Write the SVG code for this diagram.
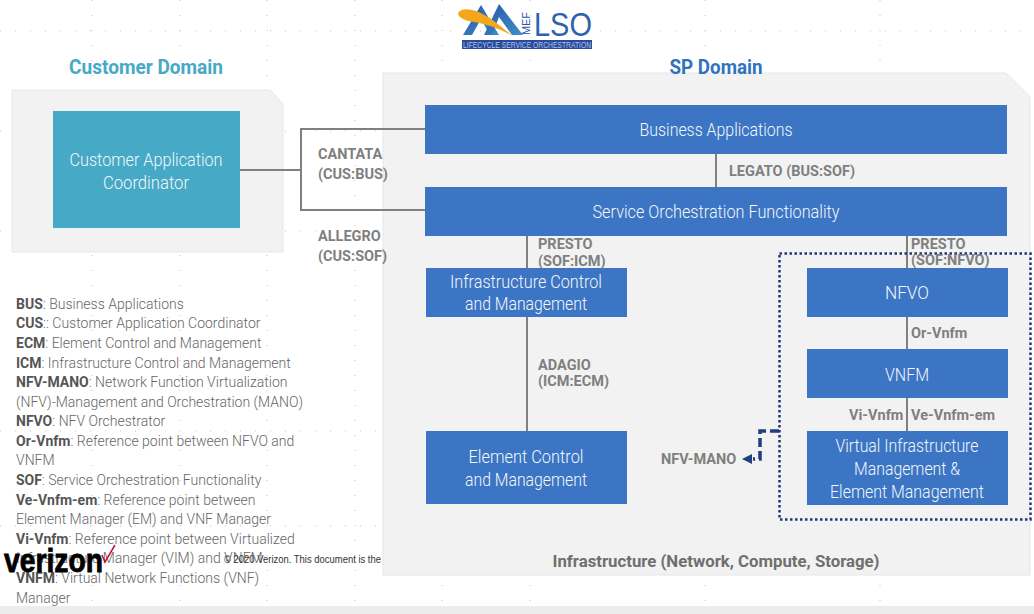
<svg xmlns="http://www.w3.org/2000/svg" width="1034" height="614" viewBox="0 0 1034 614">
<defs>
<linearGradient id="mnt" x1="0" y1="0" x2="1" y2="1"><stop offset="0" stop-color="#2a55a5"/><stop offset="1" stop-color="#3f8fce"/></linearGradient>
</defs>
<style>
text{font-family:"Roboto","Liberation Sans",sans-serif}
.box{fill:#3b75c3}
.w{fill:#f4f7fb;font-size:19px;text-anchor:middle;font-weight:300}
.l{fill:#7f7f7f;font-size:14.500px;font-weight:700}
.t{fill:#666;font-size:14px;font-weight:300}
.t tspan{font-weight:700;fill:#555}
.c{fill:none;stroke:#808080;stroke-width:2}
.panel{fill:#f2f2f2;stroke:#e6e6e6;stroke-width:1}
.h{font-size:20px;font-weight:700;text-anchor:middle}
.grid{stroke:#c4c4c4;stroke-width:1;stroke-dasharray:1 14;fill:none}
</style>
<rect width="1034" height="614" fill="#fff"/>
<rect y="606" width="1034" height="8" fill="#ececec"/>
<g id="grid" class="grid">
<path d="M0 31H1034M0 131H1034M0 231H1034M0 431H1034M0 526H1034"/>
<path d="M92 0V606M180 0V606M267 0V606M355 0V606M442 0V606M530 0V606M705 0V606M880 0V606"/>
</g>
<g id="sp-domain">
<path class="panel" d="M383 73H1006L1030 97V575H383Z"/>
<text class="h" x="716" y="74" fill="#2f73c0" textLength="93" lengthAdjust="spacingAndGlyphs">SP Domain</text>
<text x="716" y="567" text-anchor="middle" style="font-size:17px;font-weight:700" fill="#6f6f6f" textLength="327" lengthAdjust="spacingAndGlyphs">Infrastructure (Network, Compute, Storage)</text>
</g>
<g id="customer-domain">
<path class="panel" d="M12 90H270L283 104V252H12Z"/>
<text class="h" x="146" y="74" fill="#46a9c5" textLength="154" lengthAdjust="spacingAndGlyphs">Customer Domain</text>
</g>
<g id="connectors">
<path class="c" d="M240 170H301M425 129H301V210H425"/>
<path class="c" d="M716 153V187"/>
<path class="c" d="M527 235V268M527 317V432"/>
<path class="c" d="M907 235V268M907 317V350M907 398V431"/>
<path d="M779 431H760V459H753" fill="none" stroke="#1f3f7f" stroke-width="3.500" stroke-dasharray="9 4"/>
<path d="M742 459L752 454V464Z" fill="#1f3f7f"/>
</g>
<g id="mano-boundary"><rect x="779.500" y="253.500" width="251" height="266" fill="none" stroke="#1f3575" stroke-width="2.500" stroke-dasharray="2.500 2.500"/></g>
<g id="customer-app"><rect x="53" y="111" width="187" height="117" fill="#46a9c5"/><text class="w" x="146" y="166" textLength="153" lengthAdjust="spacingAndGlyphs">Customer Application</text><text class="w" x="146" y="189" textLength="86" lengthAdjust="spacingAndGlyphs">Coordinator</text></g>
<g id="business-apps"><rect class="box" x="425" y="105" width="582" height="49"/><text class="w" x="716" y="136" textLength="153" lengthAdjust="spacingAndGlyphs">Business Applications</text></g>
<g id="sof"><rect class="box" x="425" y="187" width="582" height="49"/><text class="w" x="716" y="218" textLength="247" lengthAdjust="spacingAndGlyphs">Service Orchestration Functionality</text></g>
<g id="icm"><rect class="box" x="426" y="268" width="201" height="49"/><text class="w" x="526" y="288" textLength="152" lengthAdjust="spacingAndGlyphs">Infrastructure Control</text><text class="w" x="526" y="310" textLength="122" lengthAdjust="spacingAndGlyphs">and Management</text></g>
<g id="ecm"><rect class="box" x="426" y="431" width="201" height="73"/><text class="w" x="526" y="463" textLength="115" lengthAdjust="spacingAndGlyphs">Element Control</text><text class="w" x="526" y="486" textLength="122" lengthAdjust="spacingAndGlyphs">and Management</text></g>
<g id="nfvo"><rect class="box" x="807" y="268" width="201" height="49"/><text class="w" x="907" y="299" textLength="44" lengthAdjust="spacingAndGlyphs">NFVO</text></g>
<g id="vnfm"><rect class="box" x="807" y="349" width="201" height="49"/><text class="w" x="907" y="381" textLength="44" lengthAdjust="spacingAndGlyphs">VNFM</text></g>
<g id="vim"><rect class="box" x="807" y="431" width="201" height="74"/><text class="w" x="907" y="452" textLength="143" lengthAdjust="spacingAndGlyphs">Virtual Infrastructure</text><text class="w" x="907" y="475" textLength="106" lengthAdjust="spacingAndGlyphs">Management &amp;</text><text class="w" x="907" y="498" textLength="154" lengthAdjust="spacingAndGlyphs">Element Management</text></g>
<g id="labels">
<text class="l" x="318" y="159">CANTATA</text><text class="l" x="318" y="179">(CUS:BUS)</text>
<text class="l" x="318" y="241">ALLEGRO</text><text class="l" x="318" y="261">(CUS:SOF)</text>
<text class="l" x="729" y="176">LEGATO (BUS:SOF)</text>
<text class="l" x="538" y="249">PRESTO</text><text class="l" x="538" y="266">(SOF:ICM)</text>
<text class="l" x="911" y="249">PRESTO</text><text class="l" x="911" y="265">(SOF:NFVO)</text>
<text class="l" x="538" y="370">ADAGIO</text><text class="l" x="538" y="386">(ICM:ECM)</text>
<text class="l" x="911" y="338">Or-Vnfm</text>
<text class="l" x="849" y="420">Vi-Vnfm</text><text class="l" x="911" y="420">Ve-Vnfm-em</text>
<text class="l" x="661" y="464">NFV-MANO</text>
</g>
<g id="legend">
<text class="t" x="16" y="309"><tspan>BUS</tspan>: Business Applications</text>
<text class="t" x="16" y="328"><tspan>CUS</tspan>:: Customer Application Coordinator</text>
<text class="t" x="16" y="348"><tspan>ECM</tspan>: Element Control and Management</text>
<text class="t" x="16" y="368"><tspan>ICM</tspan>:  Infrastructure Control and Management</text>
<text class="t" x="16" y="387"><tspan>NFV-MANO</tspan>: Network Function Virtualization</text>
<text class="t" x="16" y="407">(NFV)-Management and Orchestration (MANO)</text>
<text class="t" x="16" y="426"><tspan>NFVO</tspan>: NFV Orchestrator</text>
<text class="t" x="16" y="446"><tspan>Or-Vnfm</tspan>: Reference point between NFVO and</text>
<text class="t" x="16" y="465">VNFM</text>
<text class="t" x="16" y="485"><tspan>SOF</tspan>: Service Orchestration Functionality</text>
<text class="t" x="16" y="505"><tspan>Ve-Vnfm-em</tspan>:  Reference point between</text>
<text class="t" x="16" y="524">Element Manager (EM) and VNF Manager</text>
<text class="t" x="16" y="544"><tspan>Vi-Vnfm</tspan>: Reference point between Virtualized</text>
<text class="t" x="16" y="563">Infrastructure Manager (VIM) and VNFM</text>
<text class="t" x="16" y="583"><tspan>VNFM</tspan>: Virtual Network Functions (VNF)</text>
<text class="t" x="16" y="603">Manager</text>
</g>
<g id="footer">
<text x="4" y="572" style="font-family:'Liberation Sans',sans-serif;font-size:33px;font-weight:700;stroke:#000;stroke-width:.8" fill="#000" textLength="99" lengthAdjust="spacingAndGlyphs">verizon</text>
<path d="M102 555L105 562L115 545" fill="none" stroke="#c8102e" stroke-width="1.500"/>
<text x="224" y="563" style="font-family:'Liberation Sans',sans-serif;font-size:11px" fill="#333" textLength="157" lengthAdjust="spacingAndGlyphs">© 2020 Verizon. This document is the</text>
</g>
<g id="logo">
<path d="M463 35L481 5L499 35H490L481 19L472 35Z" fill="url(#mnt)"/>
<path d="M484 35L499 4L523 35H512L499 17L492 35Z" fill="url(#mnt)"/>
<path d="M458 13C462 6 476 9 490 18C498 24 506 31 513 36C498 28 486 24 474 22C466 21 458 18 458 13Z" fill="#f3a81c"/>
<text x="530" y="35" transform="rotate(-90 530 35)" style="font-family:'Liberation Sans',sans-serif;font-size:10px" fill="#2a55a5" textLength="23" lengthAdjust="spacingAndGlyphs">MEF</text>
<text x="534" y="36" style="font-family:'Liberation Sans',sans-serif;font-size:33px" fill="#2f62ad" textLength="58" lengthAdjust="spacingAndGlyphs">LSO</text>
<rect x="462" y="40" width="130" height="9" fill="#2b4a9b"/>
<text x="463" y="48" style="font-family:'Liberation Sans',sans-serif;font-size:8.500px" fill="#a9c6ea" textLength="128" lengthAdjust="spacingAndGlyphs">LIFECYCLE SERVICE ORCHESTRATION</text>
</g>
</svg>
